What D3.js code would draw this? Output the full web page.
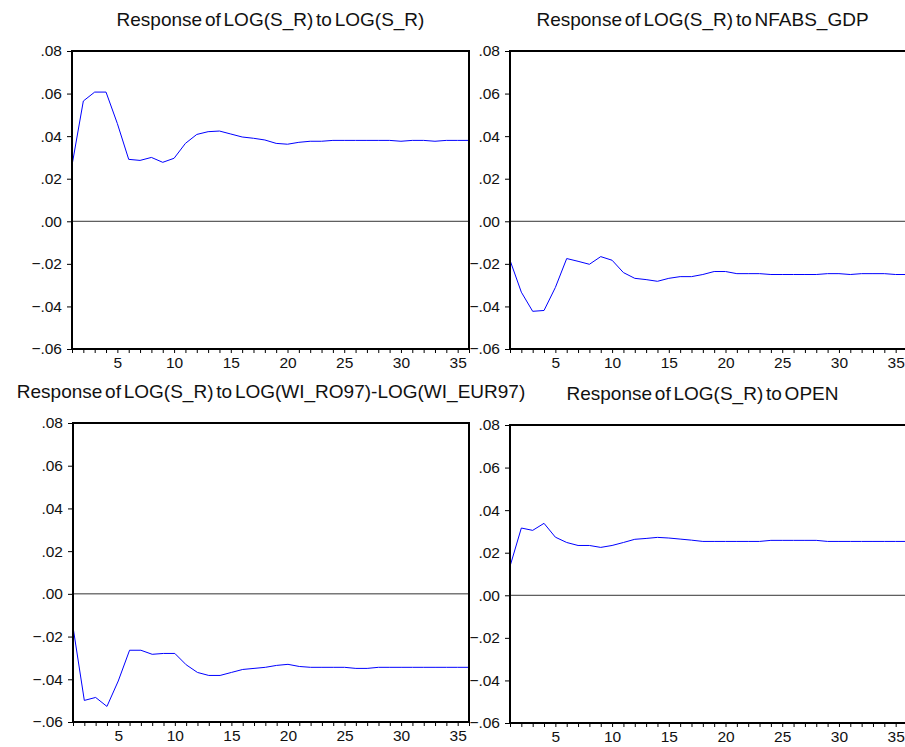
<!DOCTYPE html>
<html>
<head>
<meta charset="utf-8">
<script src="https://cdn.jsdelivr.net/npm/d3@7"></script>
<style>
  body { margin: 0; background: #fff; }
  svg { display: block; font-family: "Liberation Sans", Arial, sans-serif; }
</style>
</head>
<body>
<svg id="chart" width="905" height="747"></svg>
<script>
// periods 1..36
var periods = d3.range(1, 37);

var titles = [
  'Response of LOG(S_R) to LOG(S_R)',
  'Response of LOG(S_R) to NFABS_GDP',
  'Response of LOG(S_R) to LOG(WI_RO97)-LOG(WI_EUR97)',
  'Response of LOG(S_R) to OPEN'
];

var respOwn = [0.0263, 0.0565, 0.0607, 0.0607, 0.0459, 0.0291, 0.0286, 0.0300, 0.0277, 0.0296,
  0.0366, 0.0408, 0.0421, 0.0424, 0.0410, 0.0396, 0.0390, 0.0382, 0.0366, 0.0362,
  0.0371, 0.0376, 0.0376, 0.0380, 0.0380, 0.0380, 0.0380, 0.0380, 0.0380, 0.0376,
  0.0380, 0.0380, 0.0376, 0.0380, 0.0380, 0.0380];

var respNfa = [-0.0183, -0.0333, -0.0423, -0.0419, -0.0311, -0.0175, -0.0188, -0.0202, -0.0166, -0.0183,
  -0.0241, -0.0268, -0.0274, -0.0282, -0.0268, -0.0260, -0.0260, -0.0250, -0.0236, -0.0236,
  -0.0246, -0.0246, -0.0246, -0.0250, -0.0250, -0.0250, -0.0250, -0.0250, -0.0246, -0.0246,
  -0.0250, -0.0246, -0.0246, -0.0246, -0.0250, -0.0250];

var respWi = [-0.0155, -0.0499, -0.0485, -0.0527, -0.0408, -0.0264, -0.0264, -0.0283, -0.0279, -0.0279,
  -0.0332, -0.0368, -0.0382, -0.0382, -0.0368, -0.0354, -0.0349, -0.0344, -0.0335, -0.0330,
  -0.0340, -0.0344, -0.0344, -0.0344, -0.0344, -0.0349, -0.0349, -0.0344, -0.0344, -0.0344,
  -0.0344, -0.0344, -0.0344, -0.0344, -0.0344, -0.0344];

var respOpen = [0.0136, 0.0316, 0.0305, 0.0338, 0.0273, 0.0248, 0.0234, 0.0234, 0.0225, 0.0234,
  0.0248, 0.0263, 0.0267, 0.0272, 0.0269, 0.0264, 0.0259, 0.0253, 0.0253, 0.0253,
  0.0253, 0.0253, 0.0253, 0.0258, 0.0258, 0.0258, 0.0258, 0.0258, 0.0253, 0.0253,
  0.0253, 0.0253, 0.0253, 0.0253, 0.0253, 0.0253];

var yTicks = [-0.06, -0.04, -0.02, 0, 0.02, 0.04, 0.06, 0.08];
var xLabels = [5, 10, 15, 20, 25, 30, 35];

var panels = [
  { title: titles[0], values: respOwn,  left: 72, top: 51,  right: 469, bottom: 349, titleY: 26 },
  { title: titles[1], values: respNfa,  left: 510, top: 51, right: 907, bottom: 349, titleY: 26 },
  { title: titles[2], values: respWi,   left: 73, top: 423, right: 469, bottom: 722, titleY: 398 },
  { title: titles[3], values: respOpen, left: 510, top: 425, right: 907, bottom: 723, titleY: 400 }
];

var svg = d3.select('#chart');

var fmt = function(d) {
  var s = d3.format('.2f')(d);
  return s.replace('0.', '.');
};

panels.forEach(function(p) {
  var x = d3.scaleLinear().domain([1, 36]).range([p.left, p.right]);
  var y = d3.scaleLinear().domain([-0.06, 0.08]).range([p.bottom, p.top]);
  var g = svg.append('g');

  // title
  g.append('text')
    .attr('x', (p.left + p.right) / 2 - (p.right > 900 ? 6 : 0))
    .attr('y', p.titleY)
    .attr('text-anchor', 'middle')
    .attr('font-size', 19)
    .attr('word-spacing', -2.5)
    .attr('fill', '#111')
    .text(p.title);

  // zero line
  g.append('line')
    .attr('x1', p.left).attr('x2', p.right)
    .attr('y1', y(0)).attr('y2', y(0))
    .attr('stroke', '#333').attr('stroke-width', 1);

  // response line
  var line = d3.line()
    .x(function(d, i) { return x(periods[i]); })
    .y(function(d) { return y(d); });
  g.append('path')
    .datum(p.values)
    .attr('d', line)
    .attr('fill', 'none')
    .attr('stroke', '#0000ff')
    .attr('stroke-width', 1);

  // x axis: tick on each period, labels every 5
  var xAxis = d3.axisBottom(x)
    .tickValues(periods)
    .tickSize(4)
    .tickPadding(4)
    .tickFormat(function(d) { return xLabels.indexOf(d) >= 0 ? d : ''; });
  var gx = g.append('g')
    .attr('transform', 'translate(0,' + p.bottom + ')')
    .call(xAxis);
  gx.select('.domain').remove();
  gx.selectAll('text').attr('font-size', 15.5).attr('font-family', '"Liberation Sans", Arial, sans-serif').attr('fill', '#111');
  gx.selectAll('line').attr('stroke', '#000');

  // y axis
  var yAxis = d3.axisLeft(y)
    .tickValues(yTicks)
    .tickSize(5)
    .tickPadding(5)
    .tickFormat(fmt);
  var gy = g.append('g')
    .attr('transform', 'translate(' + p.left + ',0)')
    .call(yAxis);
  gy.select('.domain').remove();
  gy.selectAll('text').attr('font-size', 15.5).attr('font-family', '"Liberation Sans", Arial, sans-serif').attr('fill', '#111');
  gy.selectAll('line').attr('stroke', '#000');

  // frame
  g.append('rect')
    .attr('x', p.left).attr('y', p.top)
    .attr('width', p.right - p.left).attr('height', p.bottom - p.top)
    .attr('fill', 'none')
    .attr('stroke', '#000').attr('stroke-width', 2);
});
</script>
</body>
</html>
